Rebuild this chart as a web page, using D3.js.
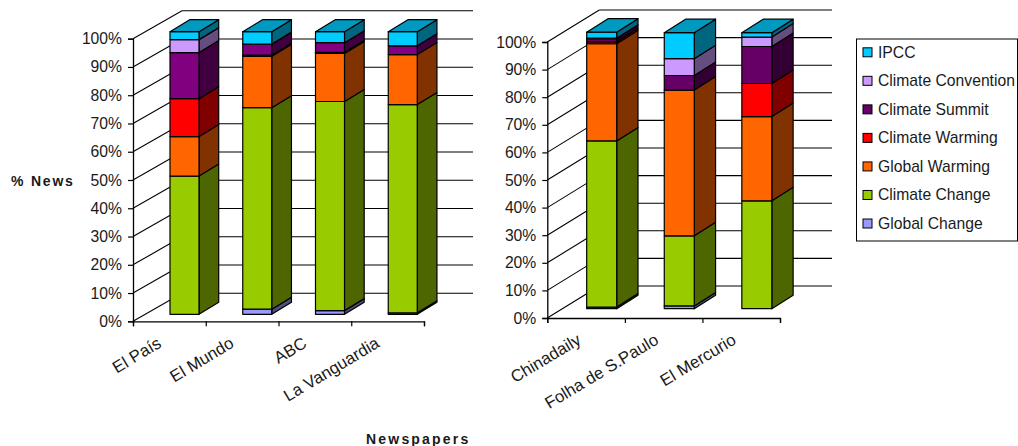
<!DOCTYPE html>
<html>
<head>
<meta charset="utf-8">
<script src="https://cdn.jsdelivr.net/npm/d3@7"></script>
<style>
  html, body { margin: 0; padding: 0; background: #fff; }
  svg { display: block; }
  text { font-family: "Liberation Sans", Arial, sans-serif; fill: #1a1a1a; }
</style>
</head>
<body>
<svg id="chart" width="1018" height="446"></svg>
<script>
// Share of news per search term, stacked bottom to top.
const seriesNames = ["Global Change", "Climate Change", "Global Warming", "Climate Warming", "Climate Summit", "Climate Convention", "IPCC"];
const legendOrder = ["IPCC", "Climate Convention", "Climate Summit", "Climate Warming", "Global Warming", "Climate Change", "Global Change"];
const yTicks = [0, 10, 20, 30, 40, 50, 60, 70, 80, 90, 100];

// Spanish newspapers
const spainPapers = ["El País", "El Mundo", "ABC", "La Vanguardia"];
const spainGlobalChange = [0, 1.8, 1.3, 0.5];
const spainClimateChange = [48.9, 71.3, 74.0, 73.7];
const spainGlobalWarming = [14.0, 18.2, 17.0, 17.7];
const spainClimateWarming = [13.4, 0.4, 0.4, 0];
const spainClimateSummit = [16.3, 3.9, 3.4, 3.1];
const spainClimateConvention = [4.6, 0, 0, 0];
const spainIpcc = [2.8, 4.4, 3.9, 5.0];

// Other newspapers
const otherPapers = ["Chinadaily", "Folha de S.Paulo", "El Mercurio"];
const otherGlobalChange = [0.6, 1.0, 0];
const otherClimateChange = [60.2, 25.4, 39.1];
const otherGlobalWarming = [35.2, 52.8, 30.5];
const otherClimateWarming = [0.7, 0, 12.0];
const otherClimateSummit = [1.1, 5.3, 13.4];
const otherClimateConvention = [0.2, 6.1, 3.4];
const otherIpcc = [2.2, 9.4, 1.6];

const frontRange = ["#9999FF", "#99CC00", "#FF6600", "#FF0000", "#660066", "#CC99FF", "#00CCFF"];
const sideRange = ["#4D4D80", "#4D6600", "#803300", "#800000", "#330033", "#664D80", "#006680"];
const frontColors = d3.scaleOrdinal().domain(seriesNames).range(frontRange);
const sideColors = d3.scaleOrdinal().domain(seriesNames).range(sideRange);
const topColor = "#0099BF";

const svg = d3.select("#chart");

function toRows(categories, columns) {
  return categories.map((name, i) => {
    const row = { name };
    seriesNames.forEach((s, k) => { row[s] = columns[k][i]; });
    return row;
  });
}

function drawPanel(cfg) {
  const g = svg.append("g");
  const rows = toRows(cfg.categories, cfg.columns);
  const n = cfg.categories.length;

  const y = d3.scaleLinear().domain([0, 100]).range([cfg.y0, cfg.y100]);
  const edge = d3.scaleLinear().domain([0, n]).range([cfg.x0, cfg.x1]);
  const band = d3.scaleBand().domain(cfg.categories).range([cfg.x0, cfg.x1]);
  const barY = d3.scaleLinear().domain([0, 100]).range([cfg.barBase, cfg.barBase - (cfg.y0 - cfg.y100)]);

  const front = k => (k === "Climate Summit" && cfg.summitFront) || frontColors(k);
  const side = k => (k === "Climate Summit" && cfg.summitSide) || sideColors(k);

  // back wall gridlines and the diagonals running along the side wall
  const grid = g.append("g").attr("stroke", "#000").attr("stroke-width", 1.1);
  grid.selectAll("line.back").data(yTicks).join("line")
    .attr("class", "back")
    .attr("x1", cfg.x0 + cfg.wallDx).attr("x2", cfg.wallEnd)
    .attr("y1", d => y(d) + cfg.wallDy).attr("y2", d => y(d) + cfg.wallDy);
  grid.selectAll("line.diag").data(yTicks).join("line")
    .attr("class", "diag")
    .attr("x1", cfg.x0).attr("x2", cfg.x0 + cfg.wallDx)
    .attr("y1", d => y(d)).attr("y2", d => y(d) + cfg.wallDy);

  // stacked 3D columns
  const stacked = d3.stack().keys(seriesNames)(rows);
  const lastWithValue = rows.map(r => {
    let last = null;
    seriesNames.forEach(s => { if (r[s] > 0) last = s; });
    return last;
  });

  const barLeft = i => band(cfg.categories[i]) + cfg.barOffset;

  const face = g.append("g").attr("stroke", "#000").attr("stroke-width", 1.2).attr("stroke-linejoin", "round");
  stacked.forEach(layer => {
    const key = layer.key;
    layer.forEach((seg, i) => {
      if (seg[1] - seg[0] <= 0) return;
      const x = barLeft(i), w = cfg.barWidth, dx = cfg.barDx, dy = cfg.barDy;
      const top = barY(seg[1]), bot = barY(seg[0]);
      face.append("path").attr("fill", side(key))
        .attr("d", d3.line()([[x + w, bot], [x + w + dx, bot + dy], [x + w + dx, top + dy], [x + w, top]]) + "Z");
      face.append("rect").attr("fill", front(key))
        .attr("x", x).attr("y", top).attr("width", w).attr("height", bot - top);
      if (lastWithValue[i] === key) {
        face.append("path").attr("fill", topColor)
          .attr("d", d3.line()([[x, top], [x + w, top], [x + w + dx, top + dy], [x + dx, top + dy]]) + "Z");
      }
    });
  });

  // front axes
  const yAxis = g.append("g").attr("transform", `translate(${cfg.x0},0)`)
    .call(d3.axisLeft(y).tickValues(yTicks).tickSize(5).tickPadding(6).tickFormat(d => d + "%"));
  yAxis.select(".domain").attr("stroke", "#000").attr("stroke-width", 1.3);
  yAxis.selectAll(".tick line").attr("stroke", "#000").attr("stroke-width", 1.2);
  yAxis.selectAll("text").attr("font-size", 15.7).style("font-family", '"Liberation Sans", Arial, sans-serif').attr("fill", "#1a1a1a");

  const xAxis = g.append("g").attr("transform", `translate(0,${cfg.y0})`)
    .call(d3.axisBottom(edge).ticks(n).tickSize(5).tickFormat(""));
  xAxis.select(".domain").attr("stroke", "#000").attr("stroke-width", 1.3);
  xAxis.selectAll(".tick line").attr("stroke", "#000").attr("stroke-width", 1.2);

  // slanted newspaper names
  g.append("g").selectAll("text").data(cfg.categories).join("text")
    .attr("text-anchor", "end")
    .attr("font-size", 16.8)
    .attr("transform", d => `translate(${band(d) + band.bandwidth() / 2 + cfg.labelDx},${cfg.y0 + cfg.labelDy}) rotate(-31)`)
    .text(d => d);
}

drawPanel({
  categories: spainPapers,
  columns: [spainGlobalChange, spainClimateChange, spainGlobalWarming, spainClimateWarming, spainClimateSummit, spainClimateConvention, spainIpcc],
  x0: 133, x1: 424, y0: 321.3, y100: 38.7,
  wallDx: 49, wallDy: -28, wallEnd: 473,
  barOffset: 37, barWidth: 29, barDx: 19.7, barDy: -12, barBase: 314.3,
  summitFront: "#800080", summitSide: "#400040",
  labelDx: -7, labelDy: 25
});

drawPanel({
  categories: otherPapers,
  columns: [otherGlobalChange, otherClimateChange, otherGlobalWarming, otherClimateWarming, otherClimateSummit, otherClimateConvention, otherIpcc],
  x0: 547.3, x1: 780, y0: 318, y100: 42,
  wallDx: 52, wallDy: -32, wallEnd: 832,
  barOffset: 39.4, barWidth: 30, barDx: 21.3, barDy: -13.5, barBase: 308.7,
  labelDx: -4, labelDy: 25
});

// axis titles
svg.append("text").attr("x", 11).attr("y", 186).attr("font-size", 14).attr("font-weight", "bold")
  .attr("letter-spacing", 1.8).text("% News");
svg.append("text").attr("x", 366).attr("y", 444).attr("font-size", 14).attr("font-weight", "bold")
  .attr("letter-spacing", 2.2).text("Newspapers");

// legend
const legend = svg.append("g");
legend.append("rect").attr("x", 856.5).attr("y", 39).attr("width", 161).attr("height", 202)
  .attr("fill", "#fff").attr("stroke", "#000").attr("stroke-width", 1);
const rowY = d3.scalePoint().domain(legendOrder).range([52.3, 223.5]);
const legendRows = legend.selectAll("g").data(legendOrder).join("g")
  .attr("transform", d => `translate(863,${rowY(d)})`);
legendRows.append("rect").attr("x", 0).attr("y", -4.5).attr("width", 9).attr("height", 9)
  .attr("fill", d => frontColors(d)).attr("stroke", "#000").attr("stroke-width", 1);
legendRows.append("text").attr("x", 15).attr("y", 5.5).attr("font-size", 15.7).text(d => d);
</script>
</body>
</html>
